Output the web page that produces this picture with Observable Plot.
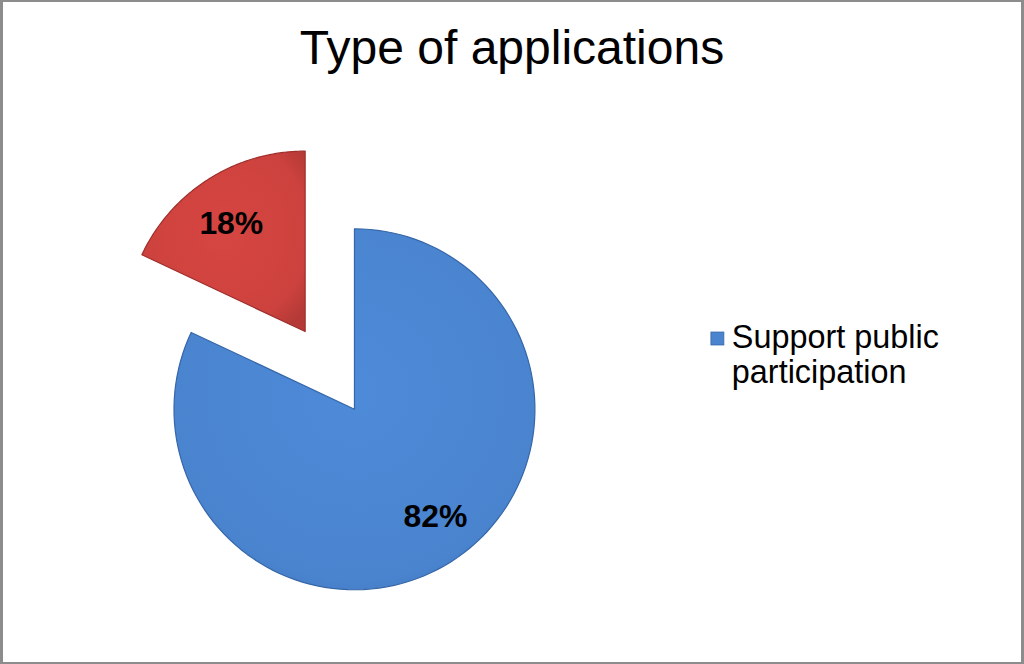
<!DOCTYPE html>
<html>
<head>
<meta charset="utf-8">
<script src="https://cdn.jsdelivr.net/npm/d3@7"></script>
<script src="https://cdn.jsdelivr.net/npm/@observablehq/plot@0.6"></script>
<style>
  html, body { margin: 0; padding: 0; background: #fff; }
  #frame {
    position: relative; width: 1024px; height: 664px; box-sizing: border-box;
    border-style: solid; border-color: #8c8c8c; border-width: 2px 3px 2px 3px;
    font-family: "Liberation Sans", Arial, sans-serif; overflow: hidden;
  }
  #title {
    position: absolute; left: 0; top: 0; width: 100%; height: 100px;
    text-align: center; font-size: 48px; line-height: 48px; padding-top: 22px;
    box-sizing: border-box; color: #000; z-index: 2;
  }
  #chart { position: absolute; left: -3px; top: -2px; }
</style>
</head>
<body>
<div id="frame">
  <div id="title">Type of applications</div>
  <div id="chart"></div>
</div>
<script>
// Data
const categories = ["Support public participation", "Other"];
const values = [82, 18];
const labels = ["82%", "18%"];
const colors = ["#4a84cf", "#cd423e"];
const strokes = ["#3566a8", "#9e2f2c"];
const legendItems = ["Support public participation"];
const legendLines = ["Support public", "participation"];
const explode = [0, 0.51]; // explosion offset as fraction of radius

// Pie angles from data (clockwise from 12 o'clock)
const arcs = d3.pie().sort(null).startAngle(0).endAngle(2 * Math.PI)(values);

const outline = [];
const labelPts = [];
const labelTurn = [-0.09, -0.025]; // small angular nudge of label placement (radians)
arcs.forEach((a, i) => {
  const mid = (a.startAngle + a.endAngle) / 2;
  const ox = explode[i] * Math.sin(mid), oy = explode[i] * Math.cos(mid);
  outline.push({slice: categories[i], x: ox, y: oy});
  const n = 120;
  for (let k = 0; k <= n; k++) {
    const t = a.startAngle + (a.endAngle - a.startAngle) * k / n;
    outline.push({slice: categories[i], x: ox + Math.sin(t), y: oy + Math.cos(t)});
  }
  outline.push({slice: categories[i], x: ox, y: oy});
  const lr = 0.735, la = mid + labelTurn[i];
  labelPts.push({label: labels[i], x: ox + lr * Math.sin(la), y: oy + lr * Math.cos(la)});
});

const plot = Plot.plot({
  width: 1024,
  height: 664,
  margin: 0,
  x: {domain: [-1, 1], range: [174, 536], axis: null},
  y: {domain: [-1, 1], range: [591, 229], axis: null},
  color: {domain: categories, range: colors},
  style: {background: "transparent", fontFamily: "'Liberation Sans', Arial, sans-serif"},
  marks: [
    Plot.line(outline, {
      x: "x", y: "y", z: "slice",
      fill: d => `url(#grad${categories.indexOf(d.slice)})`,
      stroke: d => strokes[categories.indexOf(d.slice)],
      strokeWidth: 1.2, curve: "linear"
    }),
    Plot.text(labelPts, {
      x: "x", y: "y", text: "label", dy: 2,
      fontSize: 32, fontWeight: "bold", fill: "#000"
    })
  ]
});
document.getElementById("chart").appendChild(plot);

const svg = d3.select(plot);
// soft shading gradients for the slices
const defs = svg.insert("defs", ":first-child");
colors.forEach((c, i) => {
  const g = defs.append("radialGradient").attr("id", "grad" + i)
    .attr("cx", "50%").attr("cy", "45%").attr("r", "65%");
  g.append("stop").attr("offset", "0%").attr("stop-color", d3.color(c).brighter(0.12));
  g.append("stop").attr("offset", "80%").attr("stop-color", c);
  g.append("stop").attr("offset", "100%").attr("stop-color", d3.color(c).darker(0.35));
});

// Legend
const lg = svg.append("g").attr("font-family", "'Liberation Sans', Arial, sans-serif");
legendItems.forEach((name) => {
  const ci = categories.indexOf(name);
  lg.append("rect").attr("x", 713).attr("y", 333).attr("width", 13).attr("height", 13)
    .attr("fill", colors[ci]).attr("stroke", strokes[ci]).attr("stroke-width", 0.8);
  const t = lg.append("text").attr("font-size", 32.5).attr("fill", "#000")
    .attr("text-anchor", "start");
  t.append("tspan").attr("x", 734).attr("y", 349).text(legendLines[0]);
  t.append("tspan").attr("x", 734).attr("y", 384).text(legendLines[1]);
});
</script>
</body>
</html>
